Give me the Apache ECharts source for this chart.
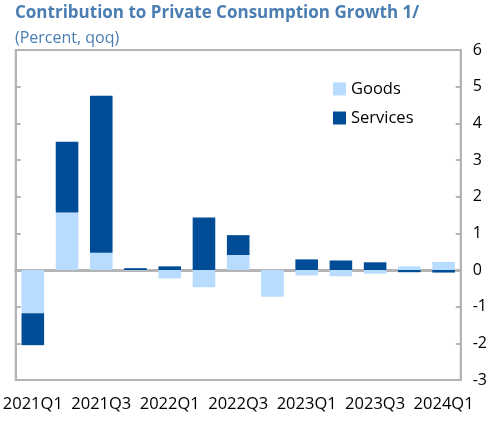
<!DOCTYPE html>
<html lang="en">
<head>
<meta charset="UTF-8">
<title>Contribution to Private Consumption Growth</title>
<script src="https://cdn.jsdelivr.net/npm/echarts@6/dist/echarts.min.js"></script>
<style>
  html, body { margin: 0; padding: 0; background: #fff; }
  #main { width: 490px; height: 421px; }
</style>
</head>
<body>
<div id="main"></div>
<script type="text/javascript">
    // quarters
    var quarters = ['2021Q1', '2021Q2', '2021Q3', '2021Q4', '2022Q1', '2022Q2', '2022Q3',
        '2022Q4', '2023Q1', '2023Q2', '2023Q3', '2023Q4', '2024Q1'];
    // contributions, percentage points
    var goods = [-1.18, 1.57, 0.47, -0.01, -0.23, -0.47, 0.41, -0.73, -0.15, -0.17, -0.10, 0.10, 0.22];
    var services = [-0.87, 1.93, 4.28, 0.05, 0.10, 1.43, 0.54, 0.0, 0.29, 0.26, 0.21, -0.06, -0.07];
    // y axis range
    var yMin = -3, yMax = 6, yStep = 1;

    var gray = '#b4b4b4';
    var myChart = echarts.init(document.getElementById('main'));

    var option = {
        animation: false,
        textStyle: { fontFamily: 'Open Sans' },
        title: [{
            text: 'Contribution to Private Consumption Growth 1/',
            left: 10, top: 0,
            textStyle: { fontSize: 17, fontWeight: 'bold', color: '#4a7eb3' }
        }, {
            text: '(Percent, qoq)',
            left: 10, top: 25,
            textStyle: { fontSize: 16, fontWeight: 'normal', color: '#4a7eb3' }
        }],
        legend: {
            orient: 'vertical',
            left: 328, top: 75,
            itemWidth: 13, itemHeight: 13,
            itemGap: 11,
            icon: 'rect',
            textStyle: { fontSize: 16.5, color: '#000', lineHeight: 18 },
            data: ['Goods', 'Services']
        },
        grid: {
            left: 13, right: 27, top: 50, bottom: 41,
            show: true, borderColor: gray, borderWidth: 2
        },
        xAxis: [{
            type: 'category',
            data: quarters,
            position: 'bottom',
            axisLine: { onZero: false, show: false },
            axisTick: { show: false },
            axisLabel: { interval: 1, fontSize: 16.5, color: '#000', margin: 16 }
        }, {
            type: 'category',
            data: quarters,
            position: 'bottom',
            axisLine: { onZero: true, lineStyle: { color: gray, width: 3 } },
            axisTick: { interval: 1, inside: true, length: 5, lineStyle: { color: gray, width: 2 } },
            axisLabel: { show: false }
        }],
        yAxis: [{
            type: 'value',
            position: 'right',
            min: yMin, max: yMax, interval: yStep,
            axisLine: { show: true, lineStyle: { color: gray, width: 2 } },
            axisTick: { show: true, inside: true, length: 5, lineStyle: { color: gray, width: 2 } },
            axisLabel: { fontSize: 16, color: '#000', margin: 12 },
            splitLine: { show: false }
        }, {
            type: 'value',
            position: 'left',
            min: yMin, max: yMax, interval: yStep,
            axisLine: { show: true, lineStyle: { color: gray, width: 2 } },
            axisTick: { show: true, inside: true, length: 5, lineStyle: { color: gray, width: 2 } },
            axisLabel: { show: false },
            splitLine: { show: false }
        }],
        series: [{
            name: 'Goods',
            type: 'bar',
            stack: 'total',
            barWidth: '66%',
            itemStyle: { color: '#b8dcff' },
            data: goods
        }, {
            name: 'Services',
            type: 'bar',
            stack: 'total',
            itemStyle: { color: '#004c97' },
            data: services
        }]
    };
    myChart.setOption(option);
</script>
</body>
</html>
